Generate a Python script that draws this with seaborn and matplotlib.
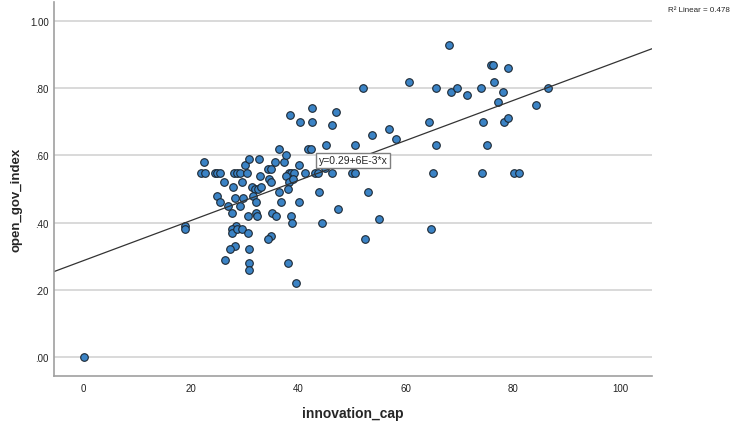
import matplotlib
matplotlib.use("Agg")
import pandas as pd
import matplotlib.pyplot as plt
import seaborn as sns

# values
innovation_cap = [
    0.0, 18.9, 18.9, 22.4, 21.8, 22.6, 24.4, 24.9, 25.4, 28.0,
    28.6, 29.1, 30.4, 38.2, 38.7, 39.3, 41.3, 43.1, 43.7, 46.2,
    50.0, 50.6, 65.1, 74.2, 80.2, 81.2, 44.9, 26.2, 27.9, 29.5,
    32.8, 34.5, 35.0, 37.8, 38.3, 39.1, 31.4, 31.9, 32.5, 33.0,
    36.4, 38.1, 24.9, 28.3, 29.7, 31.6, 43.9, 53.0, 25.4, 26.9,
    27.7, 29.1, 32.1, 30.6, 32.1, 32.3, 35.2, 35.8, 36.8, 40.1,
    38.6, 38.9, 47.4, 44.5, 55.1, 64.8, 52.4, 28.4, 27.7, 27.6,
    28.5, 29.5, 30.6, 35.0, 34.4, 28.3, 27.2, 30.8, 26.3, 30.9,
    30.9, 38.0, 39.6, 30.0, 30.9, 32.7, 35.7, 37.4, 40.1, 34.4,
    34.9, 36.5, 37.8, 38.4, 40.4, 42.5, 42.5, 41.8, 42.4, 45.2,
    50.6, 47.1, 46.3, 52.1, 53.7, 56.9, 58.3, 60.7, 64.4, 65.6,
    65.6, 68.1, 68.4, 69.6, 71.5, 74.1, 74.5, 75.2, 76.0, 76.3,
    76.4, 77.2, 78.2, 78.3, 79.1, 79.1, 84.2, 86.6,
]
open_gov_index = [
    0.00, 0.39, 0.38, 0.58, 0.547, 0.547, 0.547, 0.547, 0.547, 0.547,
    0.547, 0.547, 0.547, 0.547, 0.547, 0.547, 0.547, 0.547, 0.547, 0.547,
    0.547, 0.547, 0.547, 0.547, 0.547, 0.547, 0.562, 0.52, 0.507, 0.52,
    0.54, 0.53, 0.52, 0.54, 0.52, 0.53, 0.507, 0.50, 0.50, 0.507,
    0.49, 0.50, 0.48, 0.472, 0.472, 0.48, 0.49, 0.49, 0.46, 0.45,
    0.43, 0.45, 0.46, 0.42, 0.43, 0.42, 0.43, 0.42, 0.46, 0.46,
    0.42, 0.40, 0.44, 0.40, 0.41, 0.38, 0.35, 0.39, 0.38, 0.37,
    0.38, 0.38, 0.37, 0.36, 0.35, 0.33, 0.32, 0.32, 0.29, 0.28,
    0.26, 0.28, 0.22, 0.57, 0.59, 0.59, 0.58, 0.58, 0.57, 0.56,
    0.56, 0.62, 0.60, 0.72, 0.70, 0.70, 0.74, 0.62, 0.62, 0.63,
    0.63, 0.73, 0.69, 0.80, 0.66, 0.68, 0.65, 0.82, 0.70, 0.80,
    0.63, 0.93, 0.79, 0.80, 0.78, 0.80, 0.70, 0.63, 0.87, 0.87,
    0.82, 0.76, 0.79, 0.70, 0.71, 0.86, 0.75, 0.80,
]
y_ticks = [0.0, 0.2, 0.4, 0.6, 0.8, 1.0]
y_ticklabels = [".00", ".20", ".40", ".60", ".80", "1.00"]
x_ticks = [0, 20, 40, 60, 80, 100]
fit_label = "y=0.29+6E-3*x"
r2_label = "R² Linear = 0.478"

df = pd.DataFrame({"innovation_cap": innovation_cap, "open_gov_index": open_gov_index})

sns.set_style("white")
plt.rcParams["font.family"] = ["Liberation Sans", "DejaVu Sans"]

fig = plt.figure(figsize=(7.32, 4.27), dpi=100)
ax = fig.add_axes([54 / 732, 1 - 377 / 427, 598 / 732, 374 / 427])
ax.set_xlim(-5.5, 105.9)
ax.set_ylim(-0.057, 1.057)
ax.yaxis.grid(True, color="#d3d3d3", lw=1.2)
ax.set_axisbelow(True)

# scatter + least squares line across the whole axis
sns.regplot(data=df, x="innovation_cap", y="open_gov_index", ax=ax, ci=None,
            truncate=False, color="#3b83c5",
            scatter_kws=dict(s=30, alpha=1, edgecolor="#1c2833", linewidths=0.8),
            line_kws=dict(color="#333333", lw=0.9))

ax.set_xlim(-5.5, 105.9)
ax.set_ylim(-0.057, 1.057)
ax.set_xticks(x_ticks)
ax.set_yticks(y_ticks)
ax.set_yticklabels(y_ticklabels)
ax.tick_params(axis="both", length=0, labelsize=7, colors="#222222")
ax.tick_params(axis="y", pad=3.6)
ax.tick_params(axis="x", pad=5.4)

for side in ["top", "right"]:
    ax.spines[side].set_visible(False)
for side in ["left", "bottom"]:
    ax.spines[side].set_color("#a0a0a0")
    ax.spines[side].set_linewidth(1.2)

ax.set_xlabel("innovation_cap", fontsize=10, fontweight="bold", va="center")
ax.set_ylabel("open_gov_index", fontsize=9.5, fontweight="bold", va="center", ha="center")
ax.xaxis.set_label_coords(0.5, -0.099)
ax.yaxis.set_label_coords(-0.062, 0.473)

ax.text(50.2, 0.585, fit_label, fontsize=7.5, ha="center", va="center",
        bbox=dict(boxstyle="square,pad=0.25", fc="white", ec="#7f7f7f", lw=1))
fig.text(668 / 732, 1 - 11 / 427, r2_label, fontsize=5.8, va="center", ha="left")

fig.savefig("out.png", dpi=100)
